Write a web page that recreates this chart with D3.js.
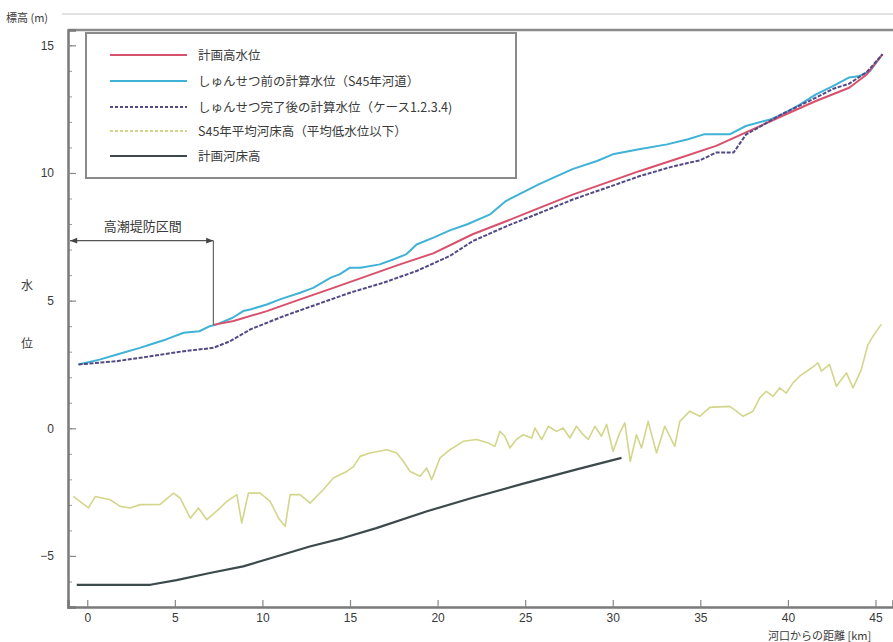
<!DOCTYPE html>
<html><head><meta charset="utf-8">
<script src="https://cdn.jsdelivr.net/npm/d3@7"></script>
<style>
html,body{margin:0;padding:0;background:#fff;}
svg{display:block;font-family:"Noto Sans CJK JP","Noto Sans",sans-serif;}
</style></head>
<body>
<svg id="chart" width="893" height="642"></svg>
<script>
// ---- data (km from river mouth, elevation m) ----
const planHighWater = [[7.2,4.05],[8.35,4.2],[10.25,4.59],[12.15,5.05],[14.05,5.5],[15.95,5.96],[17.85,6.42],[19.75,6.85],[22.0,7.6],[23.95,8.12],[25.85,8.64],[27.75,9.16],[29.65,9.62],[31.55,10.08],[33.6,10.54],[35.9,11.06],[37.8,11.65],[39.7,12.24],[41.6,12.82],[43.5,13.34],[44.5,13.86],[45.4,14.65]];
const preDredge = [[-0.5,2.5],[0.7,2.69],[1.7,2.89],[3.0,3.15],[3.6,3.28],[4.5,3.48],[5.5,3.74],[6.4,3.8],[7.0,4.0],[7.4,4.07],[8.3,4.33],[8.9,4.59],[9.3,4.65],[10.25,4.85],[11.0,5.05],[12.15,5.31],[12.9,5.5],[13.9,5.9],[14.4,6.03],[15.0,6.29],[15.6,6.29],[16.7,6.42],[17.5,6.62],[18.2,6.81],[18.8,7.2],[19.8,7.48],[20.7,7.75],[21.7,7.99],[23.0,8.38],[23.9,8.9],[25.8,9.56],[27.7,10.15],[29.1,10.47],[30.0,10.73],[31.5,10.93],[33.1,11.12],[34.3,11.32],[35.25,11.52],[36.7,11.52],[37.6,11.84],[39.0,12.1],[39.7,12.3],[40.7,12.69],[41.6,13.08],[42.6,13.41],[43.5,13.74],[44.1,13.8],[44.7,14.0],[45.4,14.65]];
const postDredge = [[-0.5,2.5],[1.7,2.63],[3.6,2.82],[5.5,3.02],[7.2,3.15],[8.15,3.41],[9.3,3.87],[11.2,4.39],[13.1,4.85],[15.0,5.31],[16.9,5.7],[18.8,6.16],[20.7,6.75],[22.0,7.33],[23.95,7.92],[25.85,8.44],[27.75,8.97],[29.65,9.42],[31.55,9.88],[33.4,10.25],[35.0,10.5],[35.9,10.8],[36.9,10.8],[37.6,11.5],[39.0,12.05],[39.7,12.32],[40.7,12.65],[41.6,12.95],[42.6,13.3],[43.5,13.5],[44.5,13.95],[45.4,14.65]];
const bed1970 = [[-0.8,-2.67],[0.07,-3.12],[0.46,-2.67],[1.31,-2.8],[1.88,-3.06],[2.45,-3.12],[3.02,-2.99],[4.16,-2.98],[4.92,-2.54],[5.3,-2.73],[5.88,-3.52],[6.35,-3.12],[6.83,-3.58],[7.59,-3.12],[7.97,-2.86],[8.54,-2.6],[8.82,-3.71],[9.2,-2.54],[9.87,-2.54],[10.44,-2.86],[10.92,-3.52],[11.3,-3.84],[11.58,-2.6],[12.15,-2.6],[12.72,-2.93],[13.48,-2.4],[14.05,-1.95],[14.81,-1.69],[15.2,-1.5],[15.57,-1.1],[16.14,-0.97],[17.1,-0.84],[17.67,-0.97],[18.04,-1.29],[18.43,-1.69],[19.0,-1.88],[19.38,-1.56],[19.66,-2.01],[20.14,-1.16],[20.71,-0.84],[21.47,-0.51],[22.23,-0.44],[22.9,-0.58],[23.27,-0.71],[23.56,-0.12],[23.84,-0.31],[24.13,-0.77],[24.5,-0.44],[24.89,-0.25],[25.37,-0.38],[25.56,0.01],[25.94,-0.44],[26.32,0.08],[26.79,-0.12],[27.17,0.01],[27.55,-0.38],[27.93,0.08],[28.31,-0.25],[28.6,-0.44],[28.98,0.08],[29.36,-0.31],[29.65,0.15],[30.02,-0.9],[30.4,-0.18],[30.69,0.21],[31.0,-1.3],[31.36,-0.25],[31.64,-0.77],[32.02,0.27],[32.5,-0.97],[32.97,0.08],[33.54,-0.71],[33.83,0.27],[34.4,0.67],[34.97,0.47],[35.54,0.82],[36.68,0.86],[37.06,0.67],[37.44,0.47],[38.01,0.67],[38.39,1.19],[38.77,1.45],[39.15,1.25],[39.53,1.58],[39.91,1.38],[40.29,1.78],[40.67,2.04],[41.34,2.36],[41.72,2.56],[41.91,2.24],[42.38,2.5],[42.77,1.65],[43.34,2.17],[43.72,1.58],[44.19,2.3],[44.57,3.28],[44.86,3.61],[45.33,4.07]];
const planBed = [[-0.6,-6.13],[3.6,-6.13],[5.1,-5.95],[7.0,-5.67],[8.9,-5.41],[10.8,-5.02],[12.7,-4.63],[14.6,-4.3],[16.5,-3.91],[19.4,-3.25],[22.0,-2.72],[25.0,-2.15],[28.0,-1.6],[30.5,-1.16]];

const seriesNames = ["計画高水位","しゅんせつ前の計算水位（S45年河道）","しゅんせつ完了後の計算水位（ケース1.2.3.4)","S45年平均河床高（平均低水位以下）","計画河床高"];
const xTicks = [0,5,10,15,20,25,30,35,40,45];
const yTicks = [-5,0,5,10,15];
const yMinor = d3.range(-7,16,1);
const sectionLabel = "高潮堤防区間";
const sectionRange = [-1.1, 7.2];
const sectionLevel = 7.35;
const sectionDrop = 4.05;

// ---- drawing ----
const svg = d3.select("#chart");
const x = d3.scaleLinear().domain([-1.1, 46.0]).range([68, 893]);
const y = d3.scaleLinear().domain([-7.0, 15.6]).range([607, 30]);
const textCol = "#3a3a3a";

// outer faint frame line and top border
svg.append("line").attr("x1",62).attr("x2",893).attr("y1",14).attr("y2",14).attr("stroke","#d8d8d8").attr("stroke-width",1.5);
svg.append("line").attr("x1",68).attr("x2",893).attr("y1",30).attr("y2",30).attr("stroke","#8a8a8a").attr("stroke-width",2.5);

// axes
const xAxis = d3.axisBottom(x).tickValues(xTicks).tickSize(-7).tickPadding(6).tickFormat(d3.format("d"));
const gx = svg.append("g").attr("transform","translate(0,607)").call(xAxis);
gx.select(".domain").attr("stroke","#7a7a7a").attr("stroke-width",2.5);
gx.selectAll(".tick line").attr("stroke","#888").attr("stroke-width",1.2);
gx.selectAll(".tick text").attr("font-size",12).attr("fill",textCol).attr("font-family","Liberation Sans, sans-serif");

const yMinorAxis = d3.axisLeft(y).tickValues(yMinor).tickSize(-4).tickFormat("");
const gym = svg.append("g").attr("transform","translate(68,0)").call(yMinorAxis);
gym.select(".domain").remove();
gym.selectAll(".tick line").attr("stroke","#999").attr("stroke-width",1);

const yAxis = d3.axisLeft(y).tickValues(yTicks).tickSize(-8).tickPadding(14).tickFormat(d3.format("d"));
const gy = svg.append("g").attr("transform","translate(68,0)").call(yAxis);
gy.select(".domain").attr("stroke","#7a7a7a").attr("stroke-width",2.5);
gy.selectAll(".tick line").attr("stroke","#888").attr("stroke-width",1.2);
gy.selectAll(".tick text").attr("font-size",12).attr("fill",textCol).attr("font-family","Liberation Sans, sans-serif");

// axis labels
svg.append("text").attr("x",6).attr("y",22).attr("font-size",11).attr("fill",textCol).text("標高 (m)");
svg.append("text").attr("x",27).attr("y",290).attr("font-size",12).attr("fill",textCol).attr("text-anchor","middle").text("水");
svg.append("text").attr("x",27).attr("y",348).attr("font-size",12).attr("fill",textCol).attr("text-anchor","middle").text("位");
svg.append("text").attr("x",768).attr("y",640).attr("font-size",11).attr("fill",textCol).text("河口からの距離 [km]");

// lines
const line = d3.line().x(d=>x(d[0])).y(d=>y(d[1]));
const styles = [
  {data: bed1970, color:"#d3d68a", w:1.6, dash:null},
  {data: planBed, color:"#3d4a4c", w:2.2, dash:null},
  {data: preDredge, color:"#3fb2d6", w:2, dash:null},
  {data: planHighWater, color:"#d8506c", w:2, dash:null},
  {data: postDredge, color:"#524a86", w:2, dash:"4,1.5"}
];
styles.forEach(s=>{
  svg.append("path").datum(s.data).attr("d",line).attr("fill","none")
    .attr("stroke",s.color).attr("stroke-width",s.w).attr("stroke-linejoin","round")
    .attr("stroke-dasharray",s.dash);
});

// section annotation
const defs = svg.append("defs");
defs.append("marker").attr("id","arr").attr("viewBox","0 0 10 10").attr("refX",10).attr("refY",5)
  .attr("markerWidth",7).attr("markerHeight",6).attr("orient","auto-start-reverse")
  .append("path").attr("d","M0,1 L10,5 L0,9 Z").attr("fill","#444");
svg.append("line").attr("x1",x(sectionRange[0])+2).attr("x2",x(sectionRange[1]))
  .attr("y1",y(sectionLevel)).attr("y2",y(sectionLevel)).attr("stroke","#555").attr("stroke-width",1.2)
  .attr("marker-start","url(#arr)").attr("marker-end","url(#arr)");
svg.append("line").attr("x1",x(sectionRange[1])).attr("x2",x(sectionRange[1]))
  .attr("y1",y(sectionLevel)).attr("y2",y(sectionDrop)).attr("stroke","#666").attr("stroke-width",1.2);
svg.append("text").attr("x",(x(sectionRange[0])+x(sectionRange[1]))/2+2).attr("y",y(sectionLevel)-10)
  .attr("text-anchor","middle").attr("font-size",13).attr("fill",textCol).text(sectionLabel);

// legend
const lg = svg.append("g");
lg.append("rect").attr("x",86).attr("y",33).attr("width",430).attr("height",145)
  .attr("fill","#fff").attr("stroke","#8a8a8a").attr("stroke-width",2);
const legStyles = [
  {color:"#d8506c", dash:null},
  {color:"#3fb2d6", dash:null},
  {color:"#524a86", dash:"3,2"},
  {color:"#d3d68a", dash:"3,2"},
  {color:"#3d4a4c", dash:null}
];
const rowY = [55,81,107,131,156];
seriesNames.forEach((n,i)=>{
  lg.append("line").attr("x1",110).attr("x2",187).attr("y1",rowY[i]).attr("y2",rowY[i])
    .attr("stroke",legStyles[i].color).attr("stroke-width",2).attr("stroke-dasharray",legStyles[i].dash);
  lg.append("text").attr("x",198).attr("y",rowY[i]+4.5).attr("font-size",12.5).attr("fill",textCol).text(n);
});
</script>
</body></html>
